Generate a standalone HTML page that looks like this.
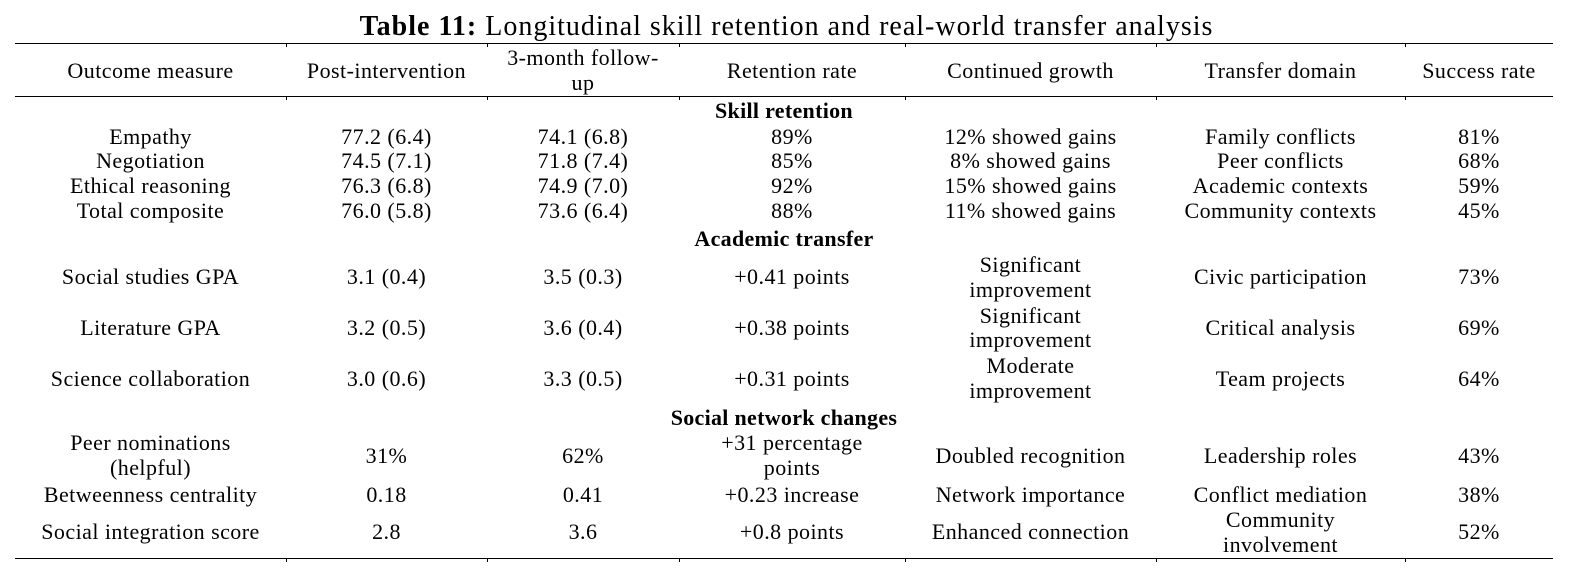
<!DOCTYPE html>
<html>
<head>
<meta charset="utf-8">
<style>
  html, body { margin:0; padding:0; background:#fff; }
  body { width:1573px; height:577px; position:relative; overflow:hidden;
         font-family:"Liberation Serif", "DejaVu Serif", serif; color:#000; }
  .t { position:absolute; text-align:center; font-size:22px; line-height:24px;
       letter-spacing:0.45px; white-space:nowrap; }
  .b { font-weight:bold; left:15px; width:1538px; letter-spacing:0.3px; }
  .c1 { left:15px; width:271px; }
  .c2 { left:286px; width:201px; }
  .c3 { left:487px; width:192px; }
  .c4 { left:679px; width:226px; }
  .c5 { left:905px; width:251px; }
  .c6 { left:1156px; width:249px; }
  .c7 { left:1405px; width:148px; }
  .rule { position:absolute; left:15px; width:1538px; height:1.5px; background:#000; }
  .tick { position:absolute; width:1px; height:3px; background:#000; }
  .title { position:absolute; left:0; width:1573px; top:11px; text-align:center;
           font-size:28px; line-height:32px; letter-spacing:1px; white-space:nowrap; color:#000; }
</style>
</head>
<body>

<div class="title"><b>Table 11:</b> Longitudinal skill retention and real-world transfer analysis</div>

<div class="rule" style="top:42.5px"></div>
<div class="rule" style="top:95.5px"></div>
<div class="rule" style="top:557.5px"></div>

<!-- ticks -->
<div class="tick" style="left:286px;top:44px"></div>
<div class="tick" style="left:487px;top:44px"></div>
<div class="tick" style="left:679px;top:44px"></div>
<div class="tick" style="left:905px;top:44px"></div>
<div class="tick" style="left:1156px;top:44px"></div>
<div class="tick" style="left:1405px;top:44px"></div>
<div class="tick" style="left:286px;top:97px"></div>
<div class="tick" style="left:487px;top:97px"></div>
<div class="tick" style="left:679px;top:97px"></div>
<div class="tick" style="left:905px;top:97px"></div>
<div class="tick" style="left:1156px;top:97px"></div>
<div class="tick" style="left:1405px;top:97px"></div>
<div class="tick" style="left:286px;top:559px"></div>
<div class="tick" style="left:487px;top:559px"></div>
<div class="tick" style="left:679px;top:559px"></div>
<div class="tick" style="left:905px;top:559px"></div>
<div class="tick" style="left:1156px;top:559px"></div>
<div class="tick" style="left:1405px;top:559px"></div>

<!-- header -->
<div class="t c1" style="top:58.5px">Outcome measure</div>
<div class="t c2" style="top:58.5px">Post-intervention</div>
<div class="t c3" style="top:45.5px">3-month follow-</div>
<div class="t c3" style="top:70.5px">up</div>
<div class="t c4" style="top:58.5px">Retention rate</div>
<div class="t c5" style="top:58.5px">Continued growth</div>
<div class="t c6" style="top:58.5px">Transfer domain</div>
<div class="t c7" style="top:58.5px">Success rate</div>

<!-- Skill retention -->
<div class="t b" style="top:98.5px">Skill retention</div>

<div class="t c1" style="top:124.5px">Empathy</div>
<div class="t c2" style="top:124.5px">77.2 (6.4)</div>
<div class="t c3" style="top:124.5px">74.1 (6.8)</div>
<div class="t c4" style="top:124.5px">89%</div>
<div class="t c5" style="top:124.5px">12% showed gains</div>
<div class="t c6" style="top:124.5px">Family conflicts</div>
<div class="t c7" style="top:124.5px">81%</div>

<div class="t c1" style="top:149px">Negotiation</div>
<div class="t c2" style="top:149px">74.5 (7.1)</div>
<div class="t c3" style="top:149px">71.8 (7.4)</div>
<div class="t c4" style="top:149px">85%</div>
<div class="t c5" style="top:149px">8% showed gains</div>
<div class="t c6" style="top:149px">Peer conflicts</div>
<div class="t c7" style="top:149px">68%</div>

<div class="t c1" style="top:173.5px">Ethical reasoning</div>
<div class="t c2" style="top:173.5px">76.3 (6.8)</div>
<div class="t c3" style="top:173.5px">74.9 (7.0)</div>
<div class="t c4" style="top:173.5px">92%</div>
<div class="t c5" style="top:173.5px">15% showed gains</div>
<div class="t c6" style="top:173.5px">Academic contexts</div>
<div class="t c7" style="top:173.5px">59%</div>

<div class="t c1" style="top:198.5px">Total composite</div>
<div class="t c2" style="top:198.5px">76.0 (5.8)</div>
<div class="t c3" style="top:198.5px">73.6 (6.4)</div>
<div class="t c4" style="top:198.5px">88%</div>
<div class="t c5" style="top:198.5px">11% showed gains</div>
<div class="t c6" style="top:198.5px">Community contexts</div>
<div class="t c7" style="top:198.5px">45%</div>

<!-- Academic transfer -->
<div class="t b" style="top:226.5px">Academic transfer</div>

<div class="t c1" style="top:264.5px">Social studies GPA</div>
<div class="t c2" style="top:264.5px">3.1 (0.4)</div>
<div class="t c3" style="top:264.5px">3.5 (0.3)</div>
<div class="t c4" style="top:264.5px">+0.41 points</div>
<div class="t c5" style="top:252.5px">Significant</div>
<div class="t c5" style="top:277.5px">improvement</div>
<div class="t c6" style="top:264.5px">Civic participation</div>
<div class="t c7" style="top:264.5px">73%</div>

<div class="t c1" style="top:315.5px">Literature GPA</div>
<div class="t c2" style="top:315.5px">3.2 (0.5)</div>
<div class="t c3" style="top:315.5px">3.6 (0.4)</div>
<div class="t c4" style="top:315.5px">+0.38 points</div>
<div class="t c5" style="top:303.5px">Significant</div>
<div class="t c5" style="top:328px">improvement</div>
<div class="t c6" style="top:315.5px">Critical analysis</div>
<div class="t c7" style="top:315.5px">69%</div>

<div class="t c1" style="top:366.5px">Science collaboration</div>
<div class="t c2" style="top:366.5px">3.0 (0.6)</div>
<div class="t c3" style="top:366.5px">3.3 (0.5)</div>
<div class="t c4" style="top:366.5px">+0.31 points</div>
<div class="t c5" style="top:354px">Moderate</div>
<div class="t c5" style="top:378.5px">improvement</div>
<div class="t c6" style="top:366.5px">Team projects</div>
<div class="t c7" style="top:366.5px">64%</div>

<!-- Social network changes -->
<div class="t b" style="top:405.5px">Social network changes</div>

<div class="t c1" style="top:430.5px">Peer nominations</div>
<div class="t c1" style="top:455.5px">(helpful)</div>
<div class="t c2" style="top:443.5px">31%</div>
<div class="t c3" style="top:443.5px">62%</div>
<div class="t c4" style="top:430.5px">+31 percentage</div>
<div class="t c4" style="top:455.5px">points</div>
<div class="t c5" style="top:443.5px">Doubled recognition</div>
<div class="t c6" style="top:443.5px">Leadership roles</div>
<div class="t c7" style="top:443.5px">43%</div>

<div class="t c1" style="top:482.5px">Betweenness centrality</div>
<div class="t c2" style="top:482.5px">0.18</div>
<div class="t c3" style="top:482.5px">0.41</div>
<div class="t c4" style="top:482.5px">+0.23 increase</div>
<div class="t c5" style="top:482.5px">Network importance</div>
<div class="t c6" style="top:482.5px">Conflict mediation</div>
<div class="t c7" style="top:482.5px">38%</div>

<div class="t c1" style="top:519.5px">Social integration score</div>
<div class="t c2" style="top:519.5px">2.8</div>
<div class="t c3" style="top:519.5px">3.6</div>
<div class="t c4" style="top:519.5px">+0.8 points</div>
<div class="t c5" style="top:519.5px">Enhanced connection</div>
<div class="t c6" style="top:508px">Community</div>
<div class="t c6" style="top:532.5px">involvement</div>
<div class="t c7" style="top:519.5px">52%</div>

</body>
</html>
